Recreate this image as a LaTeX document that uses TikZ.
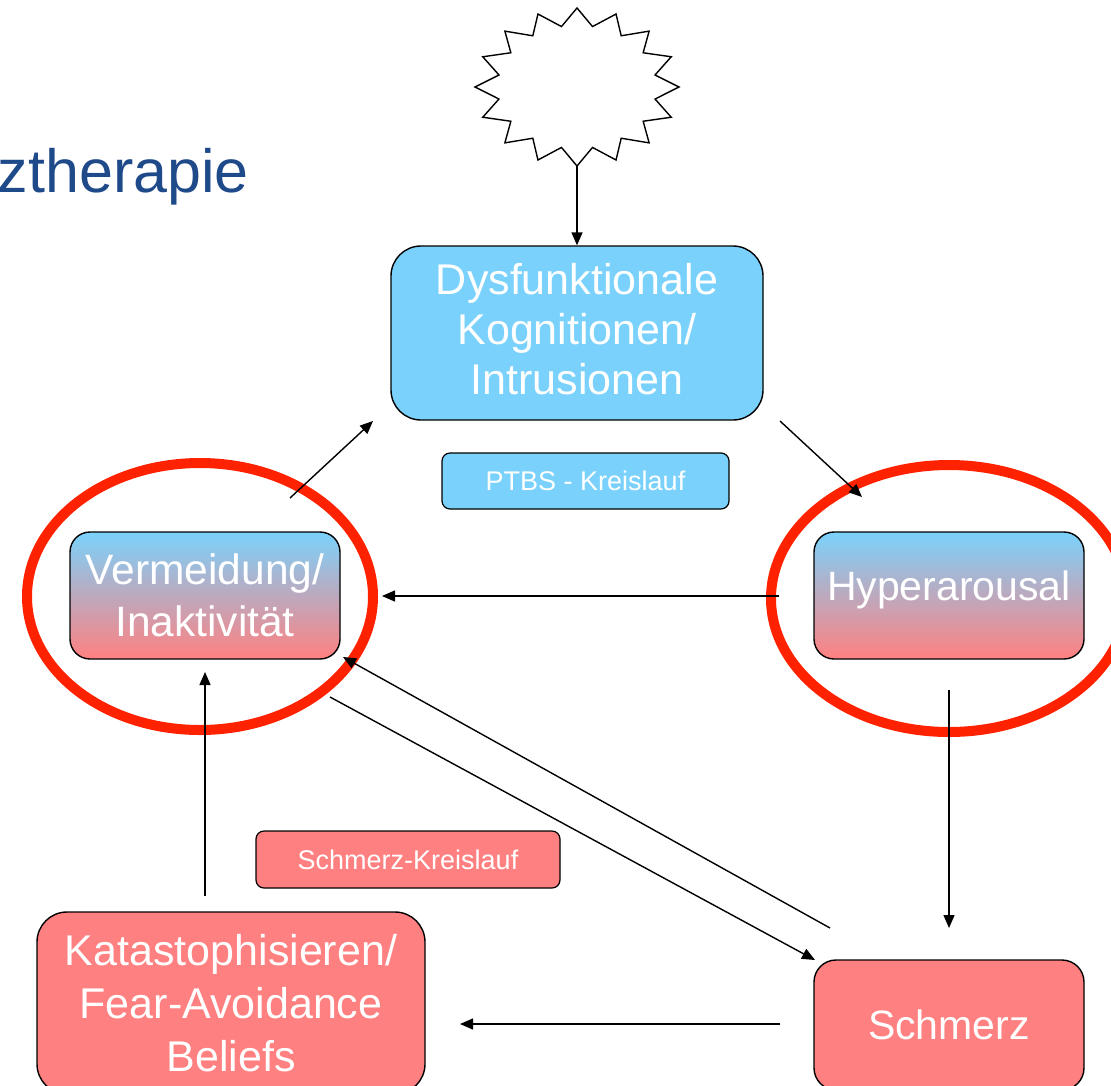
\documentclass[tikz,border=0pt]{standalone}
\usepackage{fontspec}
\setmainfont{Liberation Sans}
\usetikzlibrary{arrows.meta}
\definecolor{lblue}{RGB}{122,210,252}
\definecolor{salmon}{RGB}{255,128,128}
\definecolor{ringred}{RGB}{255,34,0}
\definecolor{titleblue}{RGB}{31,74,138}
\begin{document}
\begin{tikzpicture}[x=1pt,y=-1pt,
  box/.style={draw=black,line width=1.4pt,inner sep=0pt,align=center,text=white,
    font=\fontsize{43}{50}\selectfont},
  smallbox/.style={draw=black,line width=1.2pt,inner sep=0pt,align=center,text=white,
    rounded corners=8pt,font=\fontsize{27}{32}\selectfont},
  conn/.style={line width=1.4pt,-{Triangle[length=13pt,width=11pt]}},
  ring/.style={draw=ringred,line width=10pt}]
\clip (0,0) rectangle (1111,1085);
% title fragment
\node[anchor=base east,inner sep=0pt,text=titleblue,font=\fontsize{61}{66}\selectfont] (title) at (249,192) {ztherapie};
% star
\draw[line width=1.4pt,fill=white] (577,8) \foreach \i [evaluate=\i as \rr using {ifthenelse(mod(\i,2)==0,1,0.78)}] in {1,...,31}{
  -- ({577+102*\rr*cos(90+\i*11.25)},{87-79*\rr*sin(90+\i*11.25)})} -- cycle;
\coordinate (starbot) at (577,166);
% boxes
\node[box,fill=lblue,rounded corners=30pt,minimum width=372pt,minimum height=174pt] (dys) at (577,333)
  {\raisebox{4pt}[\height][\depth]{\parbox{360pt}{\centering Dysfunktionale\\Kognitionen/\\Intrusionen}}};
\node[smallbox,fill=lblue,minimum width=287pt,minimum height=56pt] (ptbs) at (585.5,481) {PTBS - Kreislauf};
\node[box,top color=lblue,bottom color=salmon,rounded corners=20pt,minimum width=270pt,minimum height=127pt,
  font=\fontsize{42.5}{52}\selectfont] (verm) at (205,595.5)
  {Vermeidung/\\Inaktivität};
\node[box,top color=lblue,bottom color=salmon,rounded corners=20pt,minimum width=270pt,minimum height=127pt,
  font=\fontsize{41}{50}\selectfont] (hyper) at (949,595.5)
  {\raisebox{6pt}[\height][\depth]{Hyperarousal}};
\node[smallbox,fill=salmon,minimum width=304pt,minimum height=57pt] (sk) at (408,859.5) {Schmerz-Kreislauf};
\node[box,fill=salmon,rounded corners=30pt,minimum width=388pt,minimum height=182pt,
  font=\fontsize{43}{53}\selectfont] (kata) at (231,1003)
  {Katastophisieren/\\Fear-Avoidance\\Beliefs};
\node[box,fill=salmon,rounded corners=22pt,minimum width=270pt,minimum height=130pt,
  font=\fontsize{41}{50}\selectfont] (schm) at (949,1025)
  {Schmerz};
% rings
\draw[ring] (200,596.5) ellipse [x radius=173pt,y radius=133.5pt];
\draw[ring] (949,598.5) ellipse [x radius=178pt,y radius=133.5pt];
% connector end points
\coordinate (a2s) at (290,498); \coordinate (a2e) at (373,421);
\coordinate (a3s) at (780,421); \coordinate (a3e) at (862,497);
\coordinate (a4s) at (779,596); \coordinate (a4e) at (382,596);
\coordinate (a5s) at (949,690); \coordinate (a5e) at (949,928);
\coordinate (a6s) at (830,928); \coordinate (a6e) at (343,657);
\coordinate (a7s) at (330,697); \coordinate (a7e) at (815,960);
\coordinate (a8s) at (780,1024); \coordinate (a8e) at (460,1024);
\coordinate (a9s) at (205,896); \coordinate (a9e) at (205,672);
% connectors
\draw[conn] (starbot) -- (dys.north);
\draw[conn] (a2s) -- (a2e);
\draw[conn] (a3s) -- (a3e);
\draw[conn] (a4s) -- (a4e);
\draw[conn] (a5s) -- (a5e);
\draw[conn] (a6s) -- (a6e);
\draw[conn] (a7s) -- (a7e);
\draw[conn] (a8s) -- (a8e);
\draw[conn] (a9s) -- (a9e);
\end{tikzpicture}
\end{document}
